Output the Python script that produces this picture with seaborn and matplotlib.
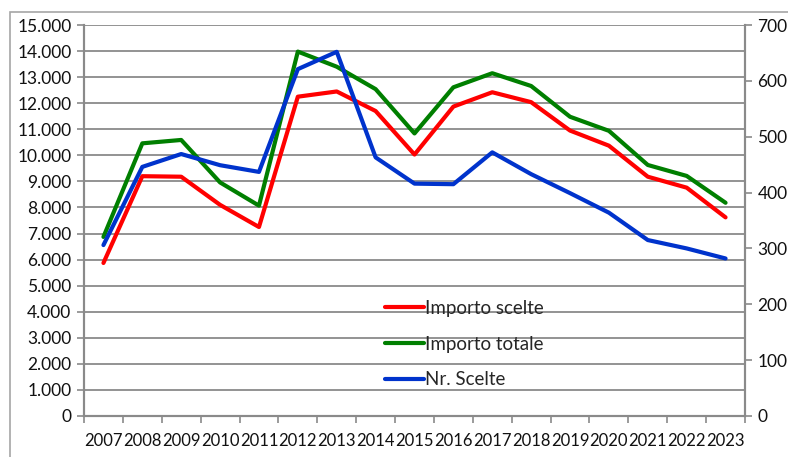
import pandas as pd
import seaborn as sns
import matplotlib.pyplot as plt
from matplotlib.patches import Rectangle
from matplotlib.ticker import FuncFormatter, MultipleLocator

years = list(range(2007, 2024))
importo_scelte = [5870, 9200, 9180, 8100, 7250, 12250, 12450, 11700, 10030,
                  11870, 12420, 12040, 10950, 10370, 9180, 8760, 7620]
importo_totale = [6870, 10460, 10590, 8960, 8070, 13980, 13400, 12540, 10840,
                  12610, 13150, 12660, 11480, 10940, 9630, 9210, 8180]
nr_scelte = [306, 446, 469, 449, 437, 621, 652, 463, 416,
             415, 472, 433, 399, 364, 315, 300, 282]

df = pd.DataFrame({"anno": years,
                   "Importo scelte": importo_scelte,
                   "Importo totale": importo_totale,
                   "Nr. Scelte": nr_scelte})

sns.set_style("white")
plt.rcParams['font.family'] = ['Lato', 'DejaVu Sans']

grey = "#8a8a8a"
fig = plt.figure(figsize=(7.88, 4.57), dpi=100)
ax = fig.add_axes([84/788, 1-416/457, (745-84)/788, (416-25)/457])
ax2 = ax.twinx()

sns.lineplot(data=df, x="anno", y="Importo scelte", ax=ax, color="#ff0000",
             lw=3, label="Importo scelte", legend=False)
sns.lineplot(data=df, x="anno", y="Importo totale", ax=ax, color="#007f00",
             lw=3, label="Importo totale", legend=False)
sns.lineplot(data=df, x="anno", y="Nr. Scelte", ax=ax2, color="#0033cc",
             lw=3, label="Nr. Scelte", legend=False)

ax.set_ylim(0, 15000)
ax2.set_ylim(0, 700)
ax.set_xlim(2006.5, 2023.5)
ax.yaxis.set_major_locator(MultipleLocator(1000))
ax2.yaxis.set_major_locator(MultipleLocator(100))
ax.yaxis.set_major_formatter(FuncFormatter(lambda v, p: f"{int(v):,}".replace(",", ".")))
ax.set_xticks(years)
ax.set_xticklabels([str(y) for y in years])
ax.set_xticks([y + 0.5 for y in [2006] + years], minor=True)
ax.set_xlabel("")
ax.set_ylabel("")
ax2.set_ylabel("")

ax.grid(axis="y", color=grey, lw=1.3)
ax.grid(axis="x", visible=False)
for a in (ax, ax2):
    for s in a.spines.values():
        s.set_color(grey)
        s.set_linewidth(1.5)
    a.spines["top"].set_visible(False)

ax.tick_params(axis="y", which="major", direction="out", length=5, color=grey,
               width=1.2, labelsize=12.5, left=True, pad=4, labelcolor="#111111")
ax.tick_params(axis="x", which="major", length=0, labelsize=12, pad=12,
               labelcolor="#111111")
ax.tick_params(axis="x", which="minor", direction="out", length=5, color=grey,
               width=1.2, bottom=True)
ax2.tick_params(axis="y", direction="out", length=5, color=grey, width=1.2,
                labelsize=12.5, right=True, pad=4, labelcolor="#111111")

h1, l1 = ax.get_legend_handles_labels()
h2, l2 = ax2.get_legend_handles_labels()
ax2.legend(h1 + h2, l1 + l2, loc="upper left", bbox_to_anchor=(0.43, 0.34),
           frameon=False, fontsize=13.5, handlelength=2.1, handletextpad=0.05,
           labelspacing=1.0)

fig.patches.append(Rectangle((10/788, -0.1), 1.2, 1.1 - 12/457, fill=False,
                             edgecolor="#a6a6a6", lw=1.2, transform=fig.transFigure))

fig.savefig("out.png", dpi=100)
